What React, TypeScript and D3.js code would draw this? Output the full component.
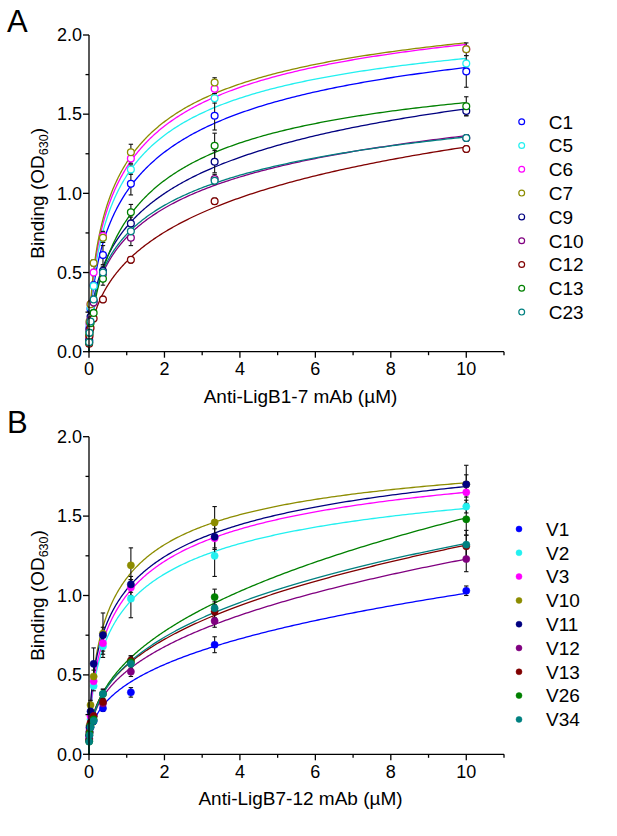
import React from "react";
import * as d3 from "d3";

const CONC = [0.0046, 0.0137, 0.041, 0.123, 0.37, 1.11, 3.33, 10];

const A_NAMES = ["C1", "C5", "C6", "C7", "C9", "C10", "C12", "C13", "C23"];
const A_VALUES = [
  [0.07, 0.15, 0.27, 0.42, 0.61, 1.06, 1.49, 1.77],
  [0.08, 0.17, 0.28, 0.415, 0.72, 1.15, 1.6, 1.82],
  [0.09, 0.18, 0.3, 0.5, 0.73, 1.22, 1.66, 1.91],
  [0.1, 0.19, 0.3, 0.56, 0.72, 1.26, 1.7, 1.91],
  [0.07, 0.14, 0.22, 0.32, 0.51, 0.81, 1.2, 1.52],
  [0.06, 0.13, 0.2, 0.31, 0.49, 0.72, 1.09, 1.35],
  [0.05, 0.1, 0.15, 0.21, 0.33, 0.58, 0.95, 1.28],
  [0.06, 0.12, 0.18, 0.245, 0.46, 0.88, 1.3, 1.55],
  [0.06, 0.12, 0.19, 0.33, 0.5, 0.76, 1.08, 1.35],
];
const A_ERRORS = [
  [0.01, 0.01, 0.02, 0.02, 0.06, 0.07, 0.09, 0.1],
  [0.01, 0.01, 0.02, 0.02, 0.03, 0.03, 0.03, 0.02],
  [0.01, 0.01, 0.02, 0.02, 0.03, 0.03, 0.03, 0.02],
  [0.01, 0.01, 0.02, 0.02, 0.03, 0.05, 0.03, 0.04],
  [0.01, 0.01, 0.02, 0.02, 0.03, 0.04, 0.07, 0.03],
  [0.01, 0.01, 0.02, 0.02, 0.04, 0.05, 0.03, 0.02],
  [0.01, 0.01, 0.02, 0.02, 0.02, 0.02, 0.02, 0.02],
  [0.01, 0.01, 0.02, 0.02, 0.04, 0.05, 0.08, 0.06],
  [0.01, 0.01, 0.02, 0.02, 0.03, 0.03, 0.02, 0.02],
];

const B_NAMES = ["V1", "V2", "V3", "V10", "V11", "V12", "V13", "V26", "V34"];
const B_VALUES = [
  [0.1, 0.14, 0.17, 0.21, 0.29, 0.39, 0.69, 1.03],
  [0.1, 0.15, 0.22, 0.43, 0.68, 0.98, 1.25, 1.56],
  [0.11, 0.16, 0.24, 0.46, 0.7, 1.05, 1.36, 1.65],
  [0.12, 0.18, 0.31, 0.49, 0.76, 1.19, 1.46, 1.7],
  [0.12, 0.17, 0.27, 0.57, 0.75, 1.07, 1.37, 1.7],
  [0.09, 0.14, 0.19, 0.24, 0.32, 0.52, 0.84, 1.23],
  [0.09, 0.14, 0.2, 0.24, 0.33, 0.59, 0.9, 1.31],
  [0.08, 0.13, 0.18, 0.22, 0.38, 0.58, 0.99, 1.48],
  [0.08, 0.12, 0.17, 0.21, 0.38, 0.57, 0.92, 1.32],
];
const B_ERRORS = [
  [0.01, 0.01, 0.02, 0.02, 0.02, 0.03, 0.05, 0.03],
  [0.01, 0.01, 0.02, 0.03, 0.07, 0.12, 0.13, 0.04],
  [0.01, 0.01, 0.02, 0.03, 0.05, 0.05, 0.06, 0.03],
  [0.01, 0.02, 0.03, 0.04, 0.13, 0.11, 0.1, 0.12],
  [0.01, 0.02, 0.03, 0.1, 0.05, 0.05, 0.08, 0.06],
  [0.01, 0.01, 0.02, 0.02, 0.02, 0.03, 0.04, 0.08],
  [0.01, 0.01, 0.02, 0.02, 0.02, 0.03, 0.04, 0.07],
  [0.01, 0.01, 0.02, 0.02, 0.03, 0.04, 0.05, 0.1],
  [0.01, 0.01, 0.02, 0.02, 0.03, 0.04, 0.04, 0.09],
];

const COLORS = ["#0000ff", "#22f0f0", "#ff00ff", "#8c8c00", "#000080", "#800080", "#800000", "#008000", "#008080"];

const X_MAJOR = [0, 2, 4, 6, 8, 10];
const X_MINOR = [1, 3, 5, 7, 9, 11];
const Y_MAJOR = [0, 0.5, 1, 1.5, 2];
const Y_MINOR = [0.25, 0.75, 1.25, 1.75];

const FONT = "'Liberation Sans', Arial, Helvetica, sans-serif";

function hill(p: number[], x: number) {
  const [B, K, n] = p;
  const xn = Math.pow(x, n);
  return (B * xn) / (Math.pow(K, n) + xn);
}

function nelderMead(f: (q: number[]) => number, x0: number[], iters = 1500) {
  const n = x0.length;
  let simplex: number[][] = [x0.slice()];
  for (let i = 0; i < n; i++) {
    const p = x0.slice();
    p[i] += 0.3;
    simplex.push(p);
  }
  let vals = simplex.map(f);
  for (let it = 0; it < iters; it++) {
    const idx = d3.range(n + 1).sort((a, b) => vals[a] - vals[b]);
    simplex = idx.map((i) => simplex[i]);
    vals = idx.map((i) => vals[i]);
    const centroid = d3.range(n).map((j) => d3.mean(simplex.slice(0, n), (p) => p[j]) as number);
    const worst = simplex[n];
    const refl = centroid.map((c, j) => c + (c - worst[j]));
    const fr = f(refl);
    if (fr < vals[0]) {
      const ex = centroid.map((c, j) => c + 2 * (c - worst[j]));
      const fe = f(ex);
      if (fe < fr) {
        simplex[n] = ex;
        vals[n] = fe;
      } else {
        simplex[n] = refl;
        vals[n] = fr;
      }
    } else if (fr < vals[n - 1]) {
      simplex[n] = refl;
      vals[n] = fr;
    } else {
      const con = centroid.map((c, j) => c + 0.5 * (worst[j] - c));
      const fc = f(con);
      if (fc < vals[n]) {
        simplex[n] = con;
        vals[n] = fc;
      } else {
        for (let i = 1; i <= n; i++) {
          simplex[i] = simplex[i].map((v, j) => simplex[0][j] + 0.5 * (v - simplex[0][j]));
          vals[i] = f(simplex[i]);
        }
      }
    }
  }
  return simplex[0];
}

function fitHill(xs: number[], ys: number[]) {
  const f = (q: number[]) => {
    const p = q.map(Math.exp);
    let s = 0;
    xs.forEach((x, i) => {
      const r = ys[i] - hill(p, x);
      s += r * r;
    });
    return s;
  };
  const q = nelderMead(f, [Math.log((d3.max(ys) as number) * 1.2), 0, Math.log(0.9)]);
  return q.map(Math.exp);
}

const SAMPLE = d3.range(0, 301).map((i) => 10 * Math.pow(i / 300, 3));

type PanelProps = {
  letter: string;
  letterY: number;
  names: string[];
  values: number[][];
  errors: number[][];
  filled: boolean;
  yTop: number;
  yBottom: number;
  xTitle: string;
  legendX: number;
  legendY: number;
};

function Panel(props: PanelProps) {
  const { letter, letterY, names, values, errors, filled, yTop, yBottom, xTitle, legendX, legendY } = props;
  const x = d3.scaleLinear().domain([0, 11]).range([89, 504]);
  const y = d3.scaleLinear().domain([0, 2]).range([yBottom, yTop]);
  const fits = values.map((v) => fitHill(CONC, v));
  const line = d3
    .line<number>()
    .x((d) => x(d))
    .curve(d3.curveLinear);
  const fmt = d3.format(".1f");
  const x0 = x(0);
  const yMid = (yTop + yBottom) / 2;
  return (
    <g>
      <text x={7} y={letterY} fontSize={31} fontFamily={FONT} fill="#000">
        {letter}
      </text>
      {fits.map((p, i) => (
        <path
          key={"c" + i}
          d={line.y((d) => y(hill(p, d)))(SAMPLE) || ""}
          fill="none"
          stroke={COLORS[i]}
          strokeWidth={1.3}
        />
      ))}
      {values.map((row, i) =>
        row.map((v, j) => {
          const e = errors[i][j];
          const cx = x(CONC[j]);
          return (
            <g key={"e" + i + "-" + j} stroke="#111" strokeWidth={1.1}>
              <line x1={cx} x2={cx} y1={y(v - e)} y2={y(v + e)} />
              <line x1={cx - 2.2} x2={cx + 2.2} y1={y(v - e)} y2={y(v - e)} />
              <line x1={cx - 2.2} x2={cx + 2.2} y1={y(v + e)} y2={y(v + e)} />
            </g>
          );
        })
      )}
      {values.map((row, i) =>
        row.map((v, j) => (
          <circle
            key={"m" + i + "-" + j}
            cx={x(CONC[j])}
            cy={y(v)}
            r={filled ? 3.6 : 3.4}
            fill={filled ? COLORS[i] : "#fff"}
            stroke={COLORS[i]}
            strokeWidth={filled ? 0.5 : 1.3}
          />
        ))
      )}
      <g stroke="#000" strokeWidth={1.3}>
        <line x1={x0} x2={x0} y1={y(0) + 0.65} y2={y(2)} />
        <line x1={x0} x2={x(11)} y1={y(0)} y2={y(0)} />
        {Y_MAJOR.map((t) => (
          <line key={"ym" + t} x1={x0 - 6} x2={x0} y1={y(t)} y2={y(t)} />
        ))}
        {Y_MINOR.map((t) => (
          <line key={"yn" + t} x1={x0 - 3.5} x2={x0} y1={y(t)} y2={y(t)} />
        ))}
        {X_MAJOR.map((t) => (
          <line key={"xm" + t} x1={x(t)} x2={x(t)} y1={y(0)} y2={y(0) + 6} />
        ))}
        {X_MINOR.map((t) => (
          <line key={"xn" + t} x1={x(t)} x2={x(t)} y1={y(0)} y2={y(0) + 3.5} />
        ))}
      </g>
      {Y_MAJOR.map((t) => (
        <text key={"yl" + t} x={82} y={y(t) + 6.3} textAnchor="end" fontSize={18} fontFamily={FONT} fill="#000">
          {fmt(t)}
        </text>
      ))}
      {X_MAJOR.map((t) => (
        <text key={"xl" + t} x={x(t)} y={y(0) + 23.5} textAnchor="middle" fontSize={18} fontFamily={FONT} fill="#000">
          {t}
        </text>
      ))}
      <text x={(x(0) + x(11)) / 2 + 4} y={y(0) + 51} textAnchor="middle" fontSize={19} fontFamily={FONT} fill="#000">
        {xTitle}
      </text>
      <text
        transform={`translate(44,${yMid}) rotate(-90)`}
        textAnchor="middle"
        fontSize={19}
        fontFamily={FONT}
        fill="#000"
      >
        Binding (OD
        <tspan fontSize={12.5} dy={4}>
          630
        </tspan>
        <tspan dy={-4}>)</tspan>
      </text>
      {names.map((nm, i) => (
        <g key={"l" + i}>
          <circle
            cx={legendX}
            cy={legendY + i * 23.8}
            r={filled ? 3 : 2.9}
            fill={filled ? COLORS[i] : "#fff"}
            stroke={COLORS[i]}
            strokeWidth={filled ? 0.5 : 1.2}
          />
          <text x={legendX + 27} y={legendY + i * 23.8 + 6.8} fontSize={19} fontFamily={FONT} fill="#000">
            {nm}
          </text>
        </g>
      ))}
    </g>
  );
}

export default function App() {
  return (
    <svg
      width={617}
      height={836}
      viewBox="0 0 617 836"
      style={{ position: "absolute", left: 0, top: 0, background: "#fff" }}
    >
      <rect width={617} height={836} fill="#fff" />
      <Panel
        letter="A"
        letterY={32}
        names={A_NAMES}
        values={A_VALUES}
        errors={A_ERRORS}
        filled={false}
        yTop={35}
        yBottom={351.7}
        xTitle="Anti-LigB1-7 mAb (µM)"
        legendX={521.7}
        legendY={121.7}
      />
      <Panel
        letter="B"
        letterY={433}
        names={B_NAMES}
        values={B_VALUES}
        errors={B_ERRORS}
        filled={true}
        yTop={436.7}
        yBottom={754.3}
        xTitle="Anti-LigB7-12 mAb (µM)"
        legendX={519}
        legendY={529}
      />
    </svg>
  );
}
